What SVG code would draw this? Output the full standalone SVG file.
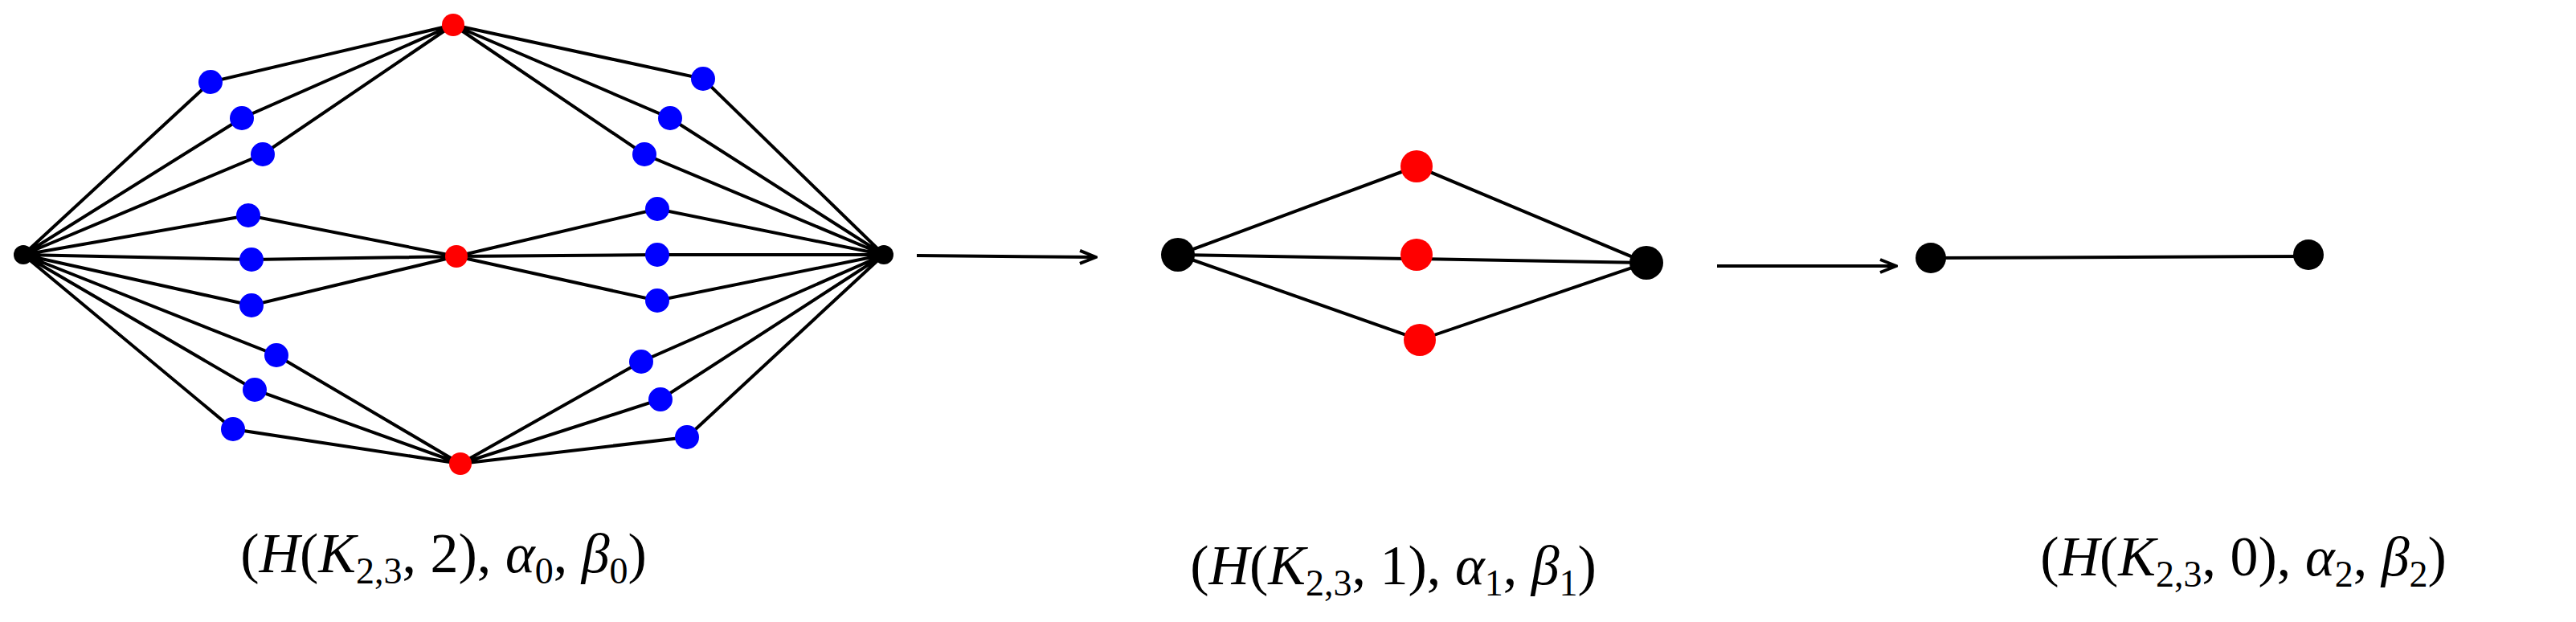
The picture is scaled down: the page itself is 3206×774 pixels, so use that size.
<svg xmlns="http://www.w3.org/2000/svg" width="3206" height="774" viewBox="0 0 3206 774">
<defs>
<style>
.e{stroke:#000;stroke-width:4;fill:none}
.b{fill:#0000ff}.r{fill:#ff0000}.k{fill:#000}
.t{font-family:"Liberation Serif",serif;font-size:70px;fill:#000}
.i{font-style:italic}
.s{font-size:46px}
</style>
<marker id="ah" markerWidth="24" markerHeight="20" refX="22" refY="10" orient="auto" markerUnits="userSpaceOnUse">
<path d="M2,2 L22,10 L2,18" fill="none" stroke="#000" stroke-width="4"/>
</marker>
</defs>
<rect width="3206" height="774" fill="#fff"/>
<g id="connectors">
<!-- left graph -->
<path class="e" d="M29,317 L262,102 L564,31 M29,317 L301,147 L564,31 M29,317 L327,192 L564,31
M29,317 L309,268 L568,319 M29,317 L313,323 L568,319 M29,317 L313,380 L568,319
M29,317 L344,442 L573,577 M29,317 L317,485 L573,577 M29,317 L290,534 L573,577
M1100,317 L875,98 L564,31 M1100,317 L834,147 L564,31 M1100,317 L802,192 L564,31
M1100,317 L818,260 L568,319 M1100,317 L818,317 L568,319 M1100,317 L818,374 L568,319
M1100,317 L798,450 L573,577 M1100,317 L822,497 L573,577 M1100,317 L855,544 L573,577"/>
<line class="e" x1="1141" y1="318" x2="1364" y2="320" marker-end="url(#ah)"/>
<!-- middle graph -->
<path class="e" d="M1466,317 L1763,207 L2049,327 M1466,317 L2049,327 M1466,317 L1767,423 L2049,327"/>
<line class="e" x1="2137" y1="331" x2="2360" y2="331" marker-end="url(#ah)"/>
<line class="e" x1="2403" y1="321" x2="2873" y2="319"/>
</g>
<g id="n-left-a"><circle class="k" cx="29" cy="317" r="12"/></g>
<g id="n-left-b"><circle class="k" cx="1100" cy="317" r="12"/></g>
<g id="n-left-reds">
<circle class="r" cx="564" cy="31" r="14"/><circle class="r" cx="568" cy="319" r="14"/><circle class="r" cx="573" cy="577" r="14"/>
</g>
<g id="n-left-blues">
<circle class="b" cx="262" cy="102" r="15"/><circle class="b" cx="301" cy="147" r="15"/><circle class="b" cx="327" cy="192" r="15"/>
<circle class="b" cx="309" cy="268" r="15"/><circle class="b" cx="313" cy="323" r="15"/><circle class="b" cx="313" cy="380" r="15"/>
<circle class="b" cx="344" cy="442" r="15"/><circle class="b" cx="317" cy="485" r="15"/><circle class="b" cx="290" cy="534" r="15"/>
<circle class="b" cx="875" cy="98" r="15"/><circle class="b" cx="834" cy="147" r="15"/><circle class="b" cx="802" cy="192" r="15"/>
<circle class="b" cx="818" cy="260" r="15"/><circle class="b" cx="818" cy="317" r="15"/><circle class="b" cx="818" cy="374" r="15"/>
<circle class="b" cx="798" cy="450" r="15"/><circle class="b" cx="822" cy="497" r="15"/><circle class="b" cx="855" cy="544" r="15"/>
</g>
<g id="n-mid-a"><circle class="k" cx="1466" cy="317" r="21"/></g>
<g id="n-mid-b"><circle class="k" cx="2049" cy="327" r="21"/></g>
<g id="n-mid-reds">
<circle class="r" cx="1763" cy="207" r="20"/><circle class="r" cx="1763" cy="317" r="20"/><circle class="r" cx="1767" cy="423" r="20"/>
</g>
<g id="n-right-a"><circle class="k" cx="2403" cy="321" r="19"/></g>
<g id="n-right-b"><circle class="k" cx="2873" cy="317" r="19"/></g>
<g id="labels">
<text class="t" x="552" y="712" text-anchor="middle">(<tspan class="i">H</tspan>(<tspan class="i">K</tspan><tspan class="s" dy="14">2,3</tspan><tspan dy="-14">, 2), </tspan><tspan class="i">α</tspan><tspan class="s" dy="14">0</tspan><tspan dy="-14">, </tspan><tspan class="i">β</tspan><tspan class="s" dy="14">0</tspan><tspan dy="-14">)</tspan></text>
<text class="t" x="1734" y="727" text-anchor="middle">(<tspan class="i">H</tspan>(<tspan class="i">K</tspan><tspan class="s" dy="14">2,3</tspan><tspan dy="-14">, 1), </tspan><tspan class="i">α</tspan><tspan class="s" dy="14">1</tspan><tspan dy="-14">, </tspan><tspan class="i">β</tspan><tspan class="s" dy="14">1</tspan><tspan dy="-14">)</tspan></text>
<text class="t" x="2792" y="716" text-anchor="middle">(<tspan class="i">H</tspan>(<tspan class="i">K</tspan><tspan class="s" dy="14">2,3</tspan><tspan dy="-14">, 0), </tspan><tspan class="i">α</tspan><tspan class="s" dy="14">2</tspan><tspan dy="-14">, </tspan><tspan class="i">β</tspan><tspan class="s" dy="14">2</tspan><tspan dy="-14">)</tspan></text>
</g>
</svg>
